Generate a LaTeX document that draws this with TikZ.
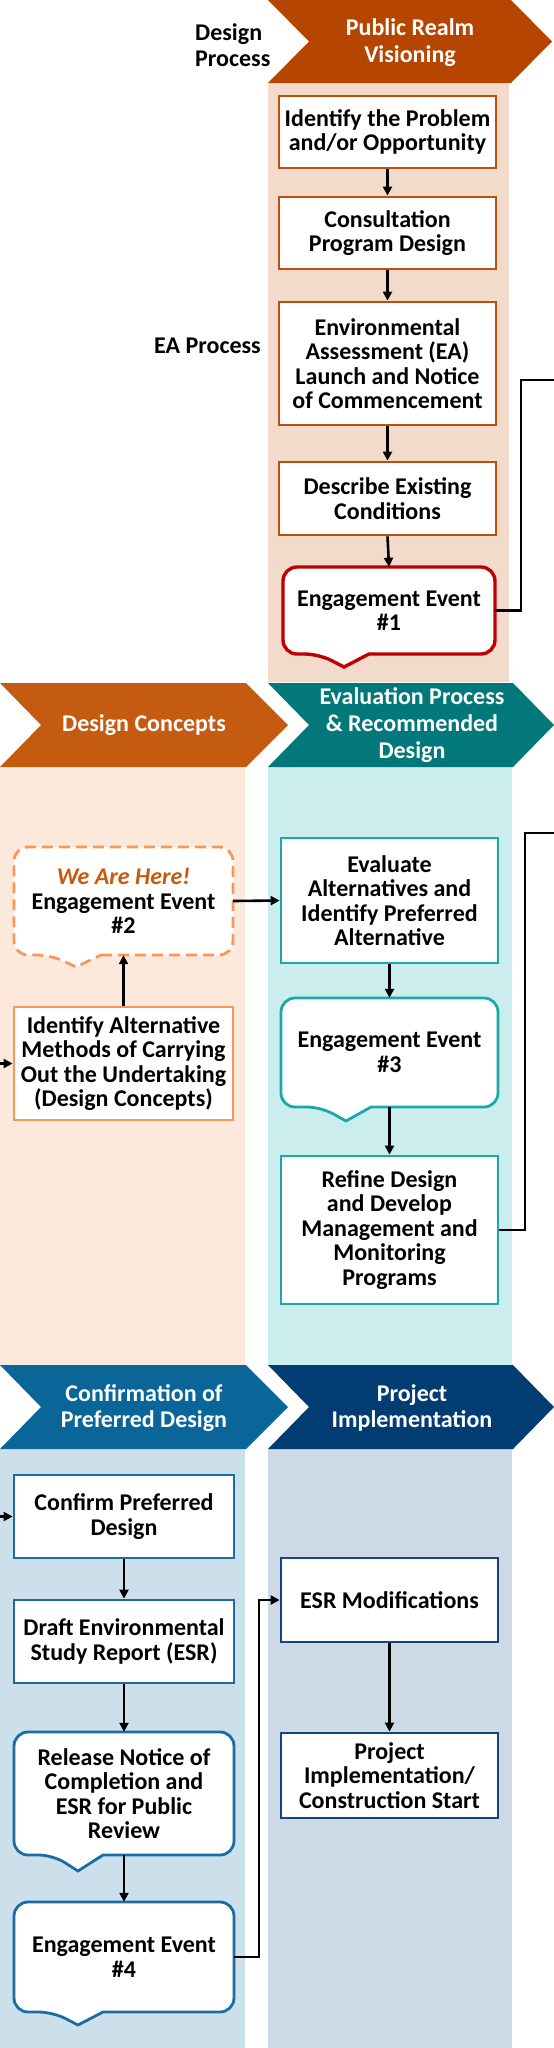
\documentclass[tikz,border=0pt]{standalone}
\usepackage{fontspec}
\setmainfont{Carlito}
\usetikzlibrary{arrows.meta}
\definecolor{banA}{HTML}{B64500}
\definecolor{bgA}{HTML}{F3DBCC}
\definecolor{brdA}{HTML}{BE4E0E}
\definecolor{eered}{HTML}{C00000}
\definecolor{banB}{HTML}{C55A11}
\definecolor{bgB}{HTML}{FDE9DC}
\definecolor{brdB}{HTML}{F8975A}
\definecolor{banC}{HTML}{03787A}
\definecolor{bgC}{HTML}{CCEDED}
\definecolor{brdC}{HTML}{1AA9AA}
\definecolor{banD}{HTML}{0A6699}
\definecolor{bgD}{HTML}{CCE0EB}
\definecolor{brdD}{HTML}{1B6CA3}
\definecolor{banE}{HTML}{013C73}
\definecolor{bgE}{HTML}{CDD9E4}
\definecolor{brdE}{HTML}{17427E}
\tikzset{
  base/.style={font=\fontsize{24}{24.5}\selectfont\bfseries, align=center, inner sep=0pt},
  box/.style={base, draw=#1, fill=white, line width=2.8pt, minimum width=217pt},
  calltext/.style={base},
  bantext/.style={font=\fontsize{24}{26.6}\selectfont\bfseries, text=white, align=center, inner sep=0pt},
  lbl/.style={font=\fontsize{24}{26.6}\selectfont\bfseries, inner sep=0pt},
  arr/.style={line width=2.6pt, -{Triangle[length=9pt,width=9pt]}},
  conn/.style={line width=2.9pt},
  callA/.style={draw=eered, line width=3.4pt},
  callB/.style={draw=brdB, line width=2.8pt, dash pattern=on 11pt off 6pt},
  callC/.style={draw=brdC, line width=2.8pt},
  callD/.style={draw=brdD, line width=2.8pt},
}
\newcommand\callshape[7]{%
  \filldraw[#1, fill=white, rounded corners=14pt] (#6+25,#5) -- (#4,#5) -- (#4,#3) -- (#2,#3) -- (#2,#5) -- (#6-25,#5) [sharp corners] -- (#6,#7) -- cycle;}
\begin{document}
\begin{tikzpicture}[x=1pt,y=-1pt]
\useasboundingbox (0,0) rectangle (554,2048);
% column backgrounds
\fill[bgA] (268,83) rectangle (509,682);
\fill[bgB] (0,767) rectangle (245,1365);
\fill[bgC] (268,767) rectangle (512,1365);
\fill[bgD] (0,1449) rectangle (245,2048);
\fill[bgE] (268,1449) rectangle (512,2048);
% banners
\fill[banA] (268,0) -- (511,0) -- (552,41.5) -- (511,83) -- (268,83) -- (309,41.5) -- cycle;
\fill[banB] (0,683) -- (246,683) -- (288,725) -- (246,767) -- (0,767) -- (41,725) -- cycle;
\fill[banC] (268,683) -- (513,683) -- (554,725) -- (513,767) -- (268,767) -- (309,725) -- cycle;
\fill[banD] (0,1365) -- (246,1365) -- (288,1407) -- (246,1449) -- (0,1449) -- (41,1407) -- cycle;
\fill[banE] (268,1365) -- (513,1365) -- (554,1407) -- (513,1449) -- (268,1449) -- (309,1407) -- cycle;
\node[bantext] (b1) at (410,42.5) {Public Realm\\Visioning};
\node[bantext] (b2) at (144,725) {Design Concepts};
\node[bantext] (b3) at (412,725) {Evaluation Process\\\& Recommended\\Design};
\node[bantext] (b4) at (144,1408) {Confirmation of\\Preferred Design};
\node[bantext] (b5) at (412,1408) {Project\\Implementation};
% side labels
\node[lbl, anchor=west, align=left] (ldp) at (195,45) {Design\\Process};
\node[lbl, anchor=east, align=right] (lea) at (261,346) {EA Process};
% callout shapes
\callshape{callA}{283}{567}{495}{654}{344}{667}
\callshape{callB}{14}{847}{233}{955}{76}{967}
\callshape{callC}{281}{998}{498}{1107}{346}{1121}
\callshape{callD}{14}{1732}{234}{1855}{78}{1871}
\callshape{callD}{14}{1902}{234}{2012}{78}{2025}
% column 1
\node[box=brdA, minimum height=72pt] (p1) at (387.5,132) {Identify the Problem\\and/or Opportunity};
\node[box=brdA, minimum height=72pt] (p2) at (387.5,233) {Consultation\\Program Design};
\node[box=brdA, minimum height=123pt] (p3) at (387.5,363.5) {Environmental\\Assessment (EA)\\Launch and Notice\\of Commencement};
\node[box=brdA, minimum height=73pt] (p4) at (387.5,498.5) {Describe Existing\\Conditions};
\node[calltext, minimum width=212pt, minimum height=87pt] (ee1) at (389,610.5) {Engagement Event\\\#1};
% design concepts
\node[calltext, minimum width=219pt, minimum height=108pt] (ee2) at (123.5,901) {{\color{banB}\itshape We Are Here!}\\Engagement Event\\\#2};
\node[box=brdB, minimum width=219pt, minimum height=113pt] (d1) at (123.5,1063.5) {Identify Alternative\\Methods of Carrying\\Out the Undertaking\\(Design Concepts)};
% evaluation
\node[box=brdC, minimum height=125pt] (e1) at (389.5,900.5) {Evaluate\\Alternatives and\\Identify Preferred\\Alternative};
\node[calltext, minimum width=217pt, minimum height=109pt] (ee3) at (389.5,1052.5) {Engagement Event\\\#3};
\node[box=brdC, minimum height=148pt] (e2) at (389.5,1230) {Refine Design\\and Develop\\Management and\\Monitoring\\Programs};
% confirmation
\node[box=brdD, minimum width=220pt, minimum height=83pt] (f1) at (124,1516.5) {Confirm Preferred\\Design};
\node[box=brdD, minimum width=220pt, minimum height=83pt] (f2) at (124,1641.5) {Draft Environmental\\Study Report (ESR)};
\node[calltext, minimum width=220pt, minimum height=123pt] (rel) at (124,1793.5) {Release Notice of\\Completion and\\ESR for Public\\Review};
\node[calltext, minimum width=220pt, minimum height=110pt] (ee4) at (124,1957) {Engagement Event\\\#4};
% implementation
\node[box=brdE, minimum height=84pt] (g1) at (389.5,1600) {ESR Modifications};
\node[box=brdE, minimum height=85pt] (g2) at (389.5,1775.5) {Project\\Implementation/\\Construction Start};
% arrows
\draw[arr] (p1.south) -- (p2.north);
\draw[arr] (p2.south) -- (p3.north);
\draw[arr] (p3.south) -- (p4.north);
\draw[arr] (p4.south) -- (ee1.north);
\draw[arr] (d1.north) -- (ee2.south);
\draw[arr] (ee2.east) -- (e1.west);
\draw[arr] (e1.south) -- (ee3.north);
\draw[arr] (ee3.south) -- (e2.north);
\draw[arr] (f1.south) -- (f2.north);
\draw[arr] (f2.south) -- (rel.north);
\draw[arr] (rel.south) -- (ee4.north);
\draw[arr] (g1.south) -- (g2.north);
\coordinate (inD) at (0,1063.5);
\coordinate (inF) at (0,1516.5);
\draw[arr] (inD) -- (d1.west);
\draw[arr] (inF) -- (f1.west);
% connectors
\coordinate (outA) at (554,380);
\coordinate (outC) at (554,833);
\draw[conn] (ee1.east) -| (521,380) -- (outA);
\draw[conn] (e2.east) -| (525,833) -- (outC);
\draw[conn, -{Triangle[length=9pt,width=9pt]}] (ee4.east) -| (259,1600) -- (g1.west);
\end{tikzpicture}
\end{document}
